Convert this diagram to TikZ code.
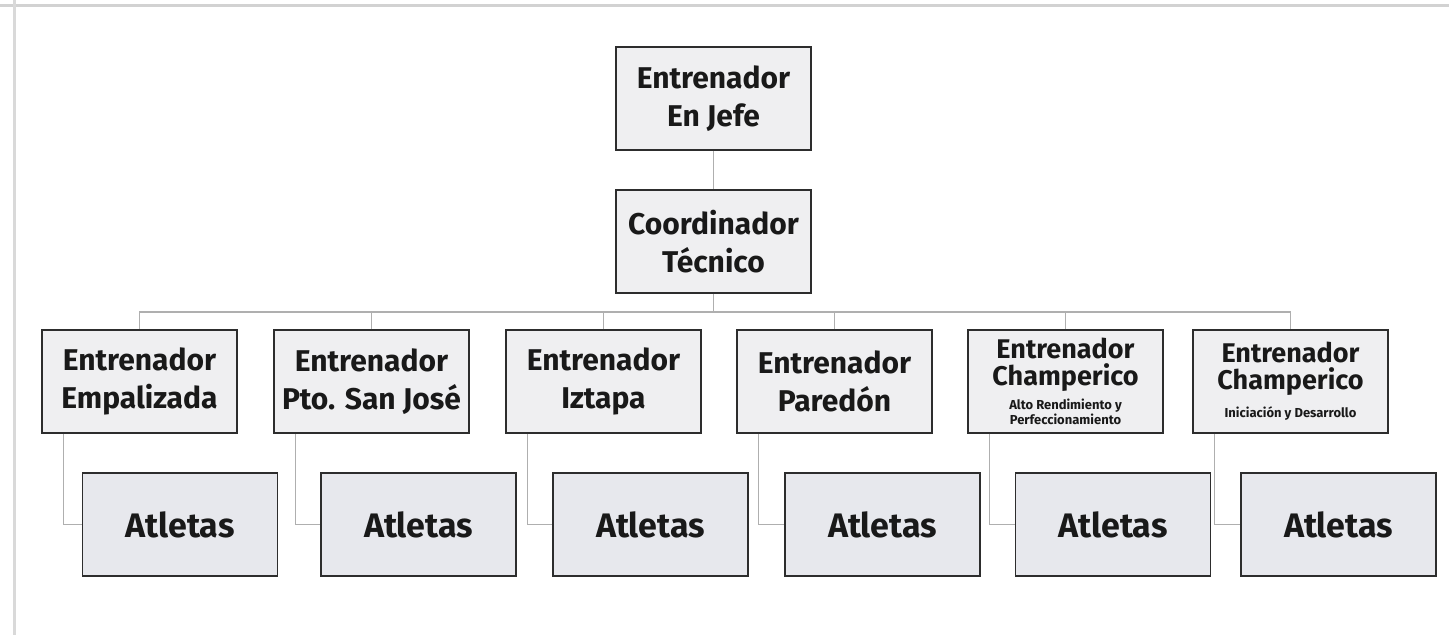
\documentclass[tikz,border=0pt]{standalone}
\usepackage{fontspec}
\setmainfont{Fira Sans}
\definecolor{boxfill}{RGB}{239,239,241}
\definecolor{atlfill}{RGB}{231,232,237}
\definecolor{boxline}{RGB}{45,45,45}
\definecolor{conn}{RGB}{175,175,175}
\newcommand{\subtxtfont}{\fontsize{13}{14}\selectfont}
\begin{document}
\begin{tikzpicture}[x=1pt,y=-1pt,
  orgbox/.style={draw=boxline, line width=1.6pt, fill=boxfill, minimum width=195pt,
    minimum height=103pt, inner sep=0pt, align=center, text=black!90,
    font=\fontsize{30}{38}\selectfont\bfseries},
  smallbox/.style={orgbox, font=\fontsize{27}{27}\selectfont\bfseries},
  atlbox/.style={orgbox, fill=atlfill, font=\fontsize{34}{38}\selectfont\bfseries},
  link/.style={draw=conn, line width=1.3pt}]
\useasboundingbox (0,0) rectangle (1449,635);
\draw[gray!35, line width=3pt] (0,5) -- (1449,5);
\draw[gray!30, line width=3pt] (14,0) -- (14,635);

\node[orgbox] (jefe) at (713.5,98.5) {Entrenador\\En Jefe};
\node[orgbox] (coord) at (713.5,241.5) {Coordinador\\Técnico};

\node[orgbox] (e1) at (139.5,381.5) {Entrenador\\Empalizada};
\node[orgbox] (e2) at (371.5,381.5) {Entrenador\\Pto. San José};
\node[orgbox] (e3) at (603.5,381.5) {Entrenador\\Iztapa};
\node[orgbox] (e4) at (834.5,381.5) {Entrenador\\Paredón};
\node[smallbox] (e5) at (1065.5,381.5) {Entrenador\\Champerico\\[-3pt]{\subtxtfont Alto Rendimiento y}\\[-12pt]{\subtxtfont Perfeccionamiento}};
\node[smallbox] (e6) at (1290.5,381.5) {Entrenador\\Champerico\\[1pt]{\subtxtfont Iniciación y Desarrollo}};

\node[atlbox] (a1) at (180,524.5) {Atletas};
\node[atlbox] (a2) at (418.5,524.5) {Atletas};
\node[atlbox] (a3) at (650.5,524.5) {Atletas};
\node[atlbox] (a4) at (882.5,524.5) {Atletas};
\node[atlbox] (a5) at (1113,524.5) {Atletas};
\node[atlbox] (a6) at (1338.5,524.5) {Atletas};

\coordinate (bus) at (713.5,312);
\draw[link] (jefe.south) -- (coord.north);
\draw[link] (coord.south) -- (bus);
\draw[link] (e1.north) |- (bus) -| (e6.north);
\foreach \i in {2,3,4,5} {\draw[link] (e\i.north) -- (e\i.north |- bus);}
\foreach \i in {1,...,6} {
  \draw[link] ([xshift=22pt]e\i.south west) |- (a\i.west);
}
\end{tikzpicture}
\end{document}
